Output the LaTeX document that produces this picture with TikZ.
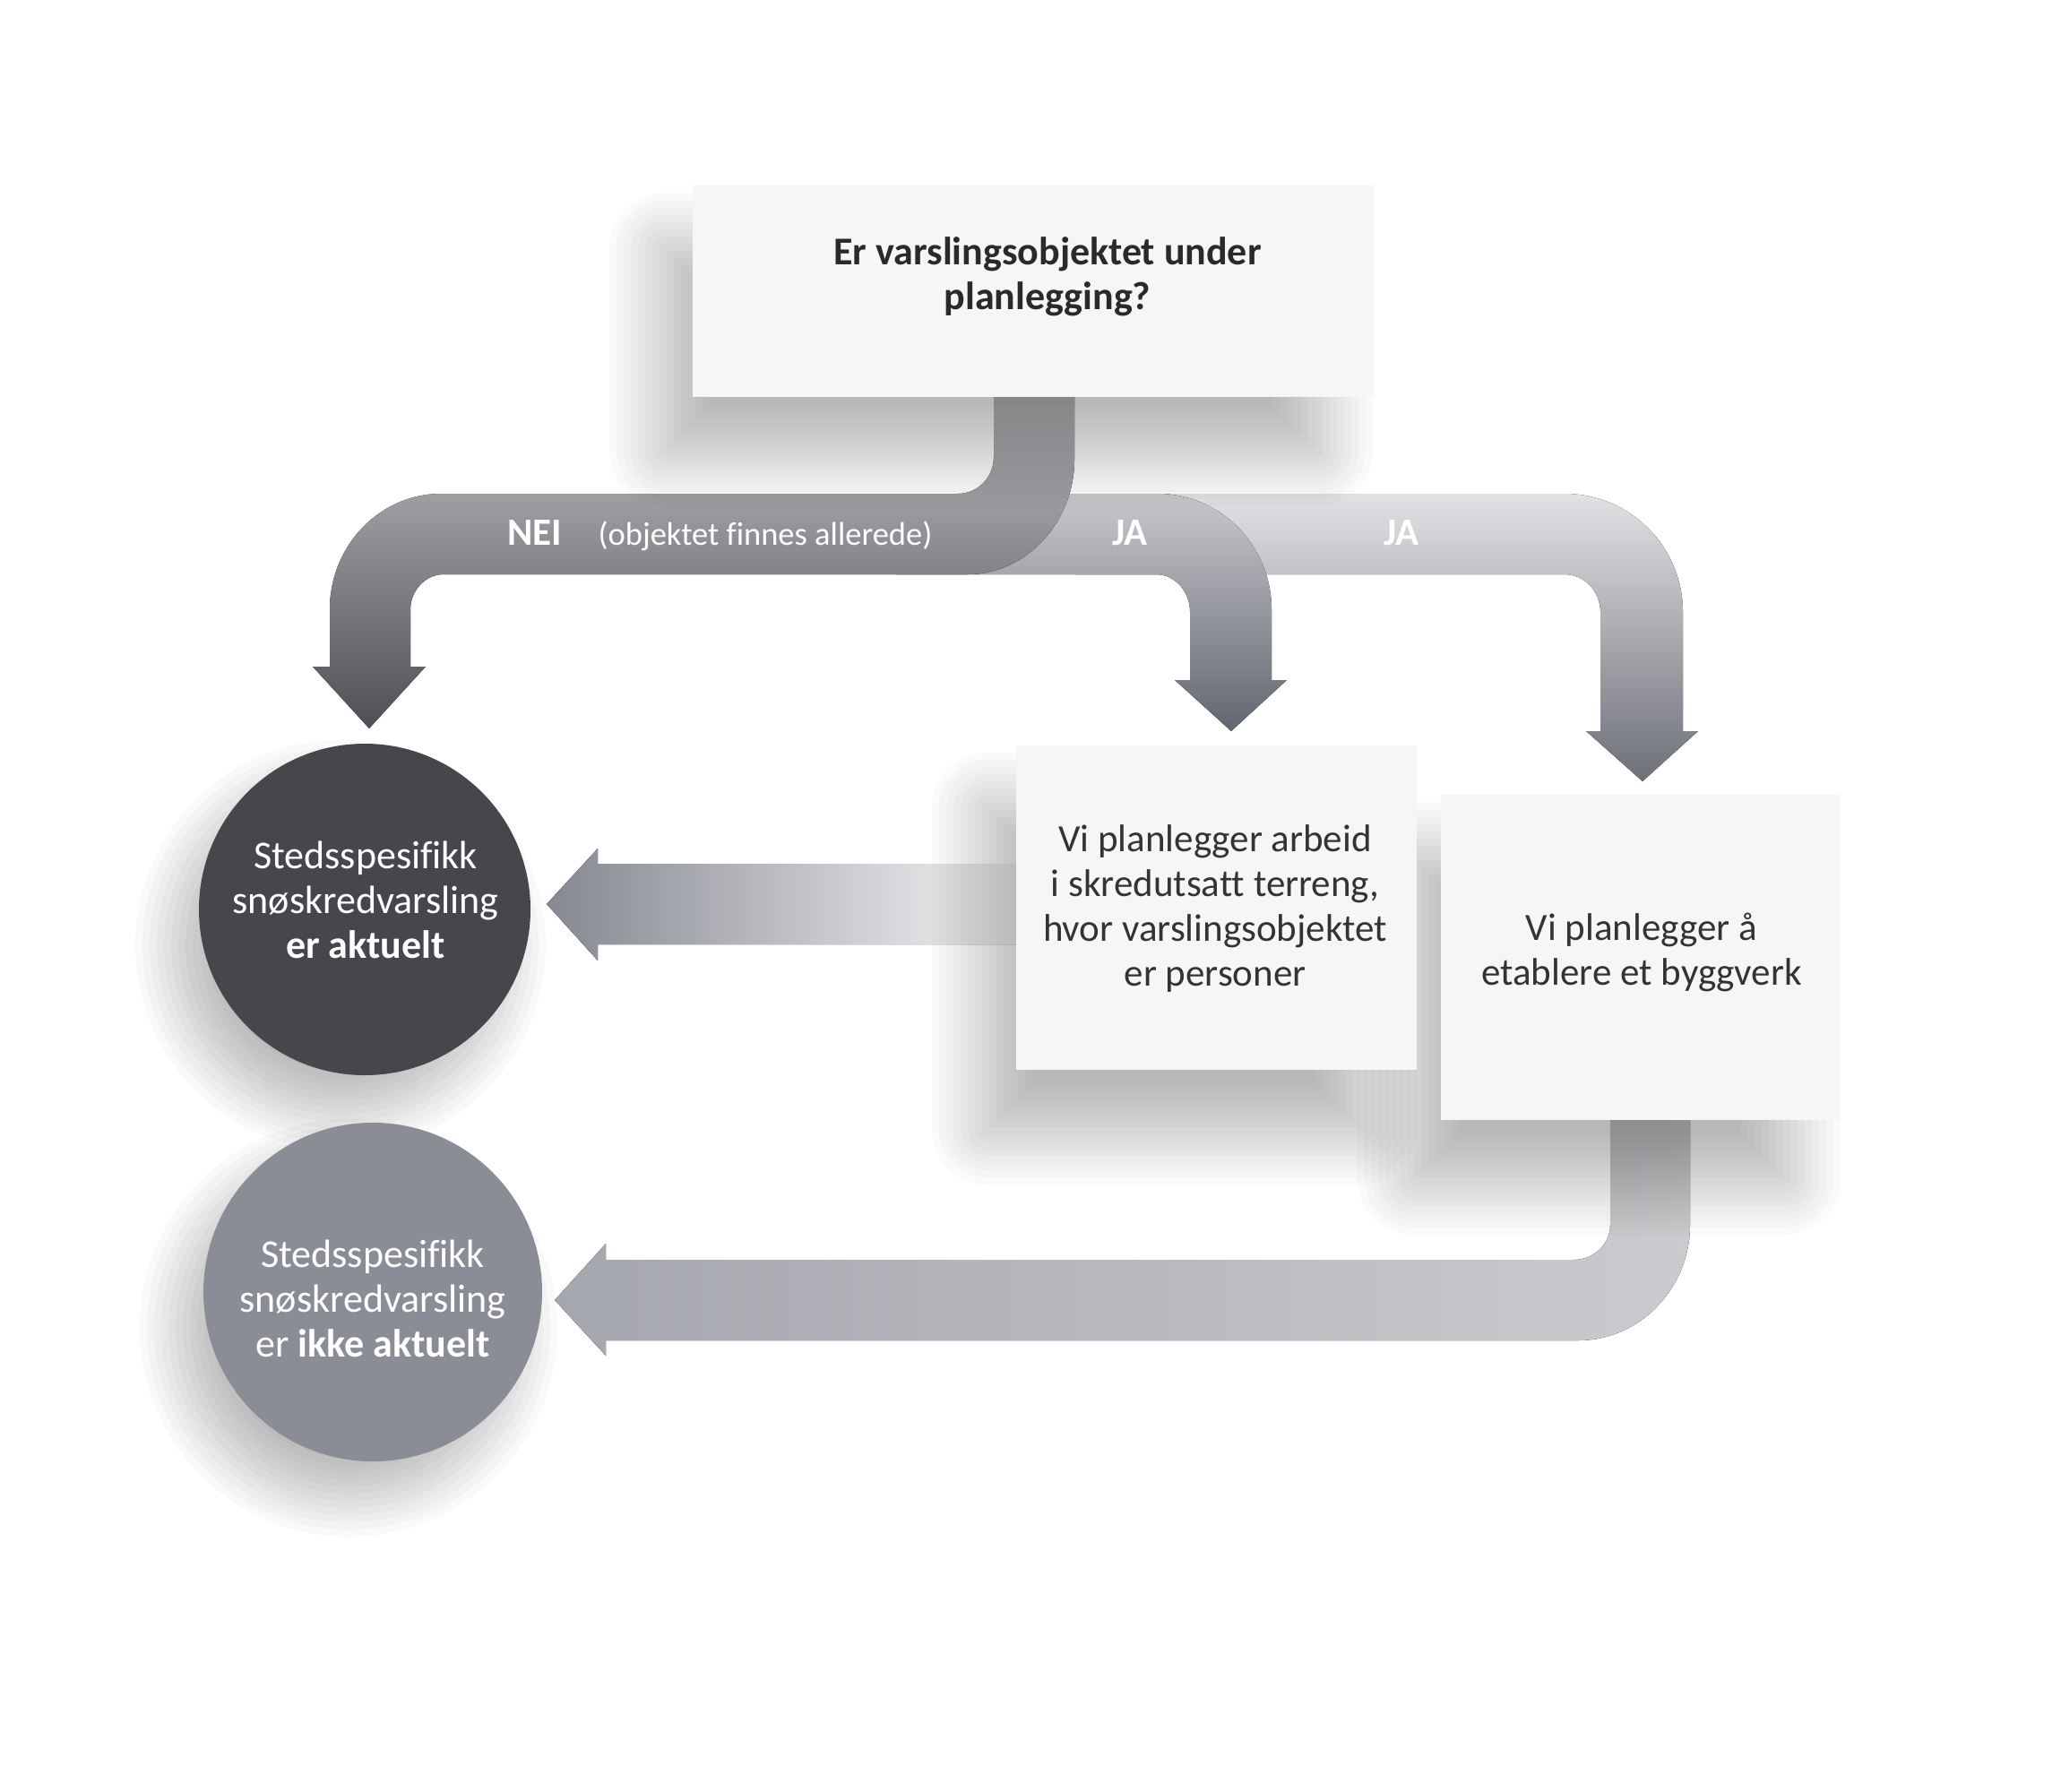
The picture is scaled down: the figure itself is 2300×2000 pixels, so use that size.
\documentclass[tikz,border=0pt]{standalone}
\usepackage{fontspec}
\setmainfont{Carlito}[Ligatures=NoCommon]
\definecolor{boxfill}{HTML}{F6F6F6}
\definecolor{boxtext}{HTML}{333333}
\definecolor{qtext}{HTML}{2A2A2A}
\definecolor{circdark}{HTML}{45474C}
\definecolor{circgrey}{HTML}{8A8D96}
\definecolor{jaTwoA}{HTML}{E2E2E5}
\definecolor{jaTwoB}{HTML}{B3B3B8}
\definecolor{jaTwoC}{HTML}{6E7078}
\definecolor{jaOneA}{HTML}{C8C8CC}
\definecolor{jaOneB}{HTML}{A4A4A9}
\definecolor{jaOneC}{HTML}{626670}
\definecolor{neiA}{HTML}{C0C0C4}
\definecolor{neiB}{HTML}{9D9CA1}
\definecolor{neiC}{HTML}{4D4F55}
\definecolor{horA}{HTML}{858891}
\definecolor{horB}{HTML}{C0C0C5}
\definecolor{horC}{HTML}{F4F4F5}
\definecolor{botA}{HTML}{A5A7AE}
\definecolor{botB}{HTML}{CBCBCF}
% soft shadow of a rectangle: offset rectangle x1 y1 x2 y2
\newcommand\rectshade[4]{%
  \foreach \i in {0,...,14}{%
    \pgfmathsetmacro\rr{max(62-8*\i,2)}%
    \fill[black, fill opacity=0.02, rounded corners=\rr pt]
      (#1-60+8*\i, #2-60+8*\i) rectangle (#3+60-8*\i, #4+60-8*\i);
  }}
% soft shadow of a circle: centre x, y, radius
\newcommand\circshade[3]{%
  \foreach \i in {0,...,11}{%
    \fill[black, fill opacity=0.022] (#1,#2) circle[radius=#3+44-8*\i];
  }}
\tikzset{
  plainbox/.style={rectangle, fill=boxfill, draw=none, inner sep=0pt},
  circ/.style={circle, draw=none, inner sep=0pt},
  bodytxt/.style={align=center, text=boxtext, font=\fontsize{43}{50}\selectfont, inner sep=0pt},
  circtxt/.style={align=center, text=white, font=\fontsize{44}{50}\selectfont, inner sep=0pt},
  lbl/.style={text=white, font=\fontsize{36.5}{44}\selectfont, inner sep=0pt, anchor=base},
  lblb/.style={lbl, font=\fontsize{43}{44}\selectfont\bfseries},
}
\begin{document}
\begin{tikzpicture}[x=1pt,y=-1pt]
\useasboundingbox[fill=white] (0,0) rectangle (2300,2000);

% ---- arrows ----
% JA 2
\fill[top color=jaTwoA, middle color=jaTwoB, bottom color=jaTwoC]
  (1200,551) -- (1746,551) .. controls (1819,551) and (1878,610) .. (1878,683)
  -- (1878,816) -- (1895,816) -- (1833,872) -- (1770,816) -- (1786,816)
  -- (1786,683) .. controls (1786,660) and (1768,641) .. (1746,641) -- (1200,641) -- cycle;
% JA 1
\fill[top color=jaOneA, middle color=jaOneB, bottom color=jaOneC]
  (1000,551) -- (1292,551) .. controls (1362,551) and (1419,609) .. (1419,680)
  -- (1419,759) -- (1436,759) -- (1374,816) -- (1311,759) -- (1328,759)
  -- (1328,683) .. controls (1328,660) and (1311,641) .. (1290,641) -- (1000,641) -- cycle;
% NEI
\fill[top color=neiA, middle color=neiB, bottom color=neiC]
  (1109,443) -- (1109,510) .. controls (1109,533) and (1091,551) .. (1069,551)
  -- (492,551) .. controls (424,551) and (368,609) .. (368,680)
  -- (368,744) -- (349,744) -- (412,813) -- (475,744) -- (458,744)
  -- (458,680) .. controls (458,659) and (475,641) .. (495,641)
  -- (1080,641) .. controls (1145,641) and (1199,583) .. (1199,513) -- (1199,443) -- cycle;
% box 2 -> circle 1
\fill[left color=horA, middle color=horB, right color=horC]
  (1134,964) -- (667,964) -- (667,947) -- (610,1009) -- (667,1072) -- (667,1054) -- (1134,1054) -- cycle;
% box 3 -> circle 2
\fill[left color=botA, right color=botB]
  (1797,1250) -- (1797,1367) .. controls (1797,1388) and (1779,1406) .. (1756,1406)
  -- (676,1406) -- (676,1388) -- (619,1451) -- (676,1513) -- (676,1496)
  -- (1761,1496) .. controls (1830,1496) and (1886,1438) .. (1886,1367) -- (1886,1250) -- cycle;

% ---- labels on arrows ----
\node[lblb] (nei) at (597,608) {NEI};
\node[lbl] (neitxt) at (854,608) {(objektet finnes allerede)};
\node[lblb] (ja1) at (1261,608) {JA};
\node[lblb] (ja2) at (1564,608) {JA};

% ---- shadows ----
\rectshade{740}{275}{1472}{505}
\rectshade{1100}{900}{1521}{1262}
\rectshade{1575}{955}{1994}{1318}
\circshade{380}{1055}{185}
\circshade{389}{1482}{189}

% ---- boxes ----
\node[plainbox, minimum width=760pt, minimum height=236pt] (q) at (1153,325) {};
\node[bodytxt, text=qtext, font=\fontsize{44}{50}\selectfont\bfseries] (qt) at (1169,309)
  {Er varslingsobjektet under\\planlegging?};

\node[plainbox, minimum width=447pt, minimum height=362pt] (b2) at (1357.5,1013) {};
\node[bodytxt] (b2t) at (1356,1014)
  {Vi planlegger arbeid\\i skredutsatt terreng,\\hvor varslingsobjektet\\er personer};

\node[plainbox, minimum width=446pt, minimum height=363pt] (b3) at (1831,1068.5) {};
\node[bodytxt] (b3t) at (1832,1063) {Vi planlegger å\\etablere et byggverk};

% ---- circles ----
\node[circ, fill=circdark, minimum size=370pt] (c1) at (407,1015) {};
\node[circtxt] (c1t) at (408,1004) {Stedsspesifikk\\snøskredvarsling\\\textbf{er aktuelt}};

\node[circ, fill=circgrey, minimum size=378pt] (c2) at (416,1442) {};
\node[circtxt] (c2t) at (416,1449) {Stedsspesifikk\\snøskredvarsling\\er \textbf{ikke aktuelt}};
\end{tikzpicture}
\end{document}
